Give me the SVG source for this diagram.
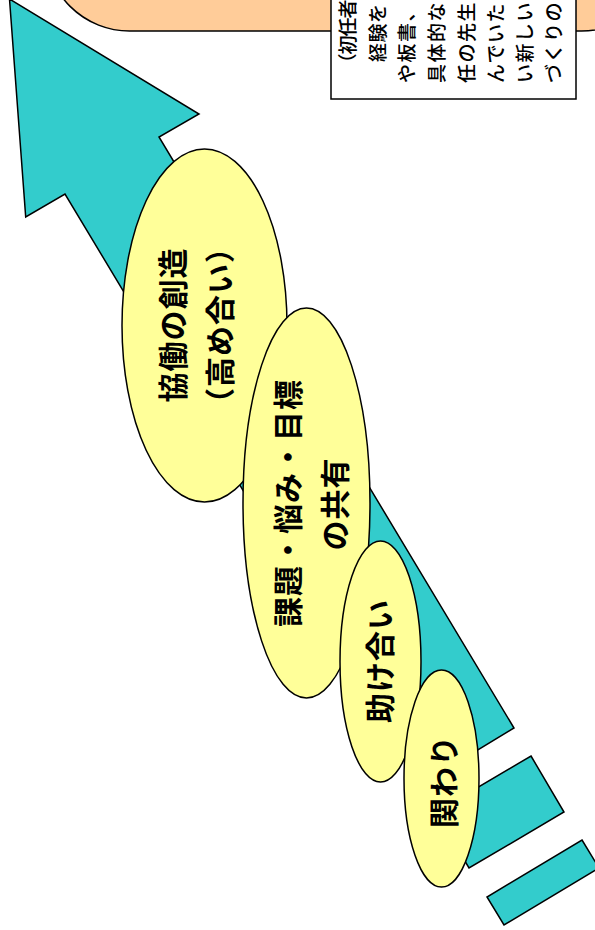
<svg xmlns="http://www.w3.org/2000/svg" width="595" height="930" viewBox="0 0 595 930">
<style>
.ln{stroke:#000;stroke-width:1.5;stroke-linejoin:miter}
.cy{fill:#33CCCC}
.el{fill:#FFFF99}
.big{font-family:"Noto Sans CJK JP","Noto Sans CJK SC",sans-serif;font-weight:700;font-size:30px;letter-spacing:1px;text-anchor:middle;dominant-baseline:central;fill:#000}
.sm{font-family:"Noto Sans CJK JP","Noto Sans CJK SC",sans-serif;font-weight:500;font-size:19px;letter-spacing:1.5px;dominant-baseline:central;fill:#000}
</style>
<rect width="595" height="930" fill="#fff"/>
<g id="banner">
<rect class="ln" x="45.5" y="-200" width="620" height="231" rx="84" ry="84" fill="#FFCC99"/>
</g>
<g id="note">
<rect class="ln" x="331" y="-10" width="245" height="109" fill="#fff"/>
<text class="sm" style="letter-spacing:-1px" transform="translate(346,72.5) rotate(-90)">（初任者</text>
<text class="sm" style="letter-spacing:0.5px" transform="translate(376,81.5) rotate(-90)">　経験を</text>
<text class="sm" transform="translate(405,83) rotate(-90)">や板書、</text>
<text class="sm" transform="translate(435,83) rotate(-90)">具体的な</text>
<text class="sm" transform="translate(465,83) rotate(-90)">任の先生</text>
<text class="sm" transform="translate(494,83) rotate(-90)">んでいた</text>
<text class="sm" transform="translate(523,83) rotate(-90)">い新しい</text>
<text class="sm" transform="translate(552,83) rotate(-90)">づくりの</text>
</g>
<g id="arrow">
<polygon class="ln cy" points="9.5,-1 199,114 159,137 514,728 420,785 65,194 25.7,217"/>
<polygon class="ln cy" points="531,756 564,812 469,868 436,812"/>
<polygon class="ln cy" points="582,840 599,868 504,925 487,897"/>
</g>
<g id="n1">
<ellipse class="ln el" cx="204.5" cy="325.5" rx="82.5" ry="176.5"/>
<text class="big" transform="translate(171,325) rotate(-90)">協働の創造</text>
<text class="big" transform="translate(218,325) rotate(-90)">（高め合い）</text>
</g>
<g id="n2">
<ellipse class="ln el" cx="306.5" cy="503" rx="63.5" ry="195"/>
<text class="big" transform="translate(286,503) rotate(-90)">課題・悩み・目標</text>
<text class="big" transform="translate(333,504) rotate(-90)">の共有</text>
</g>
<g id="n3">
<ellipse class="ln el" cx="380.5" cy="661.5" rx="40.5" ry="120.5"/>
<text class="big" transform="translate(377.5,661) rotate(-90)">助け合い</text>
</g>
<g id="n4">
<ellipse class="ln el" cx="441.5" cy="778.5" rx="37.5" ry="108.5"/>
<text class="big" transform="translate(442,781.5) rotate(-90)">関わり</text>
</g>
</svg>
